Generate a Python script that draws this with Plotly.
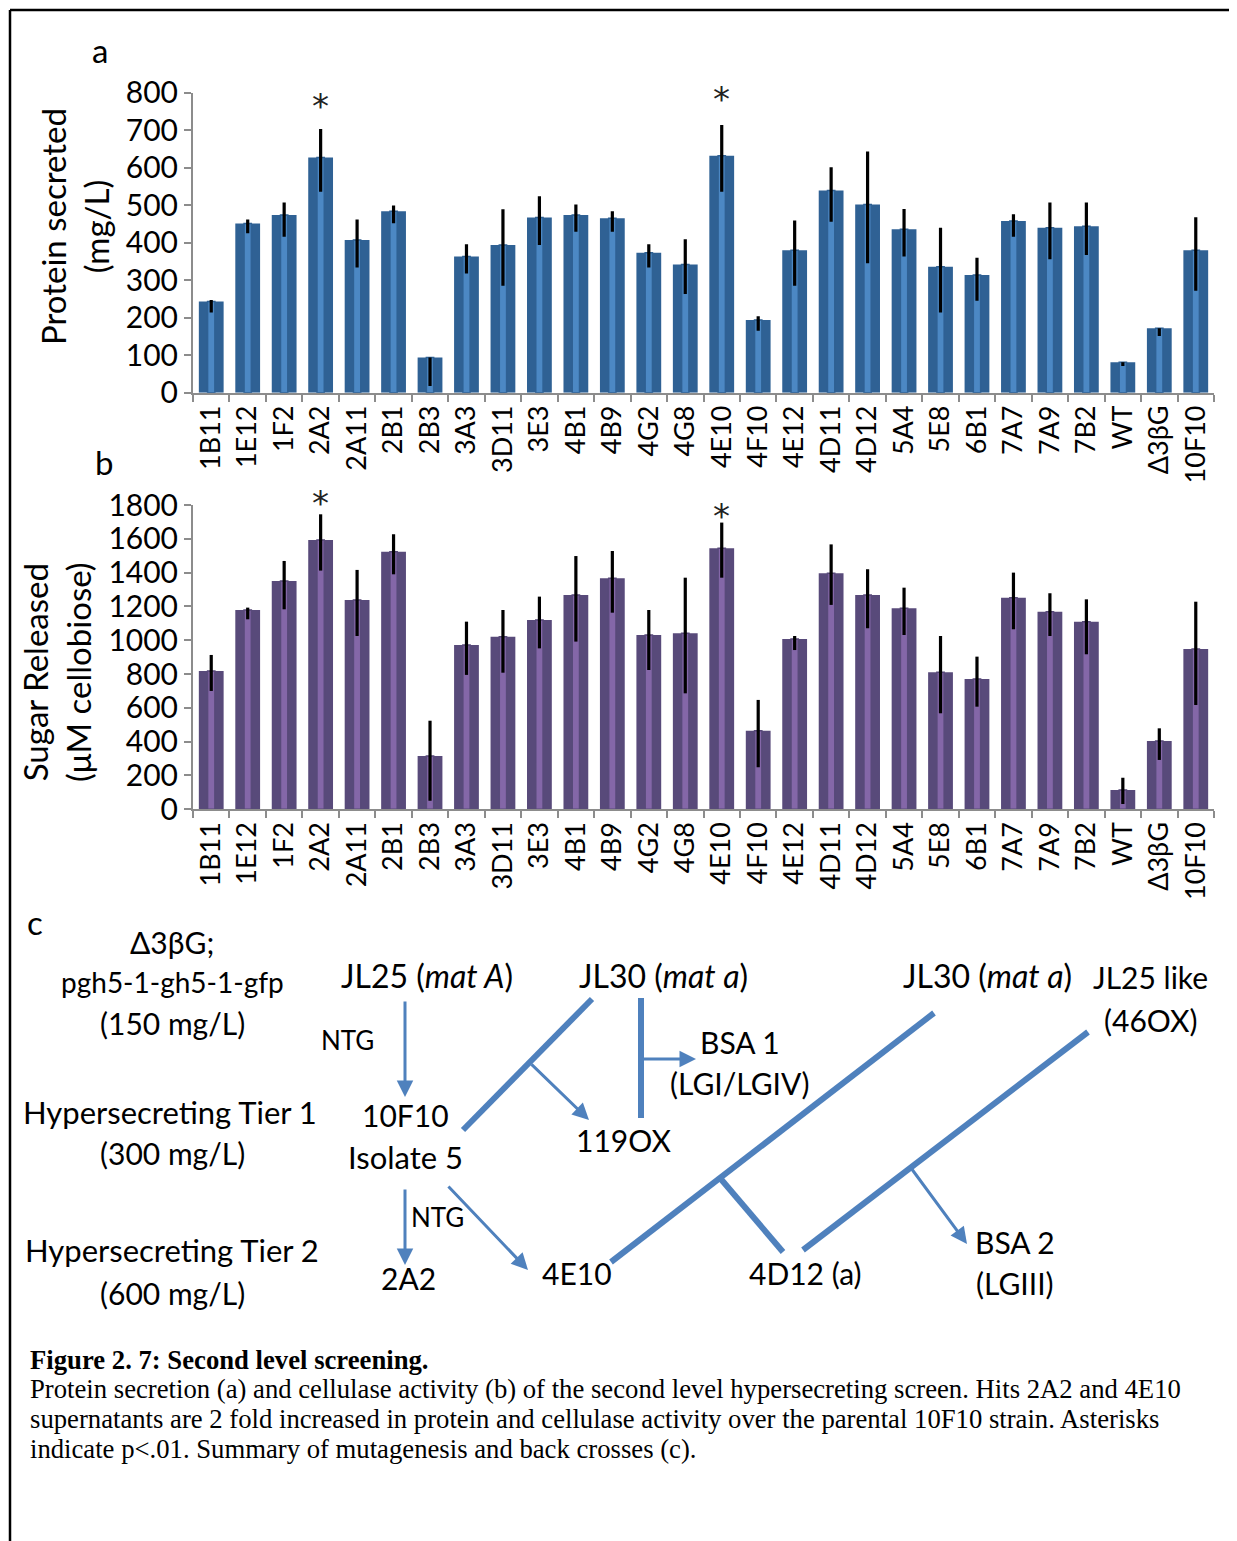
import plotly.graph_objects as go

W, H = 1237, 1541
OFF = 8  # page body margin added by the browser

def px(x):
    return (x - OFF) / W

def py(y):
    return 1 - (y - OFF) / H

# ---------------- data ----------------
categories = ["1B11", "1E12", "1F2", "2A2", "2A11", "2B1", "2B3", "3A3", "3D11", "3E3",
              "4B1", "4B9", "4G2", "4G8", "4E10", "4F10", "4E12", "4D11", "4D12", "5A4",
              "5E8", "6B1", "7A7", "7A9", "7B2", "WT", "Δ3βG", "10F10"]

protein = [243, 451, 474, 627, 407, 484, 94, 363, 394, 467,
           474, 465, 373, 342, 632, 194, 380, 539, 502, 436,
           336, 314, 458, 440, 444, 81, 172, 380]
protein_err_plus = [4, 11, 33, 76, 55, 15, 0, 33, 95, 57,
                    28, 19, 23, 67, 82, 10, 79, 62, 141, 54,
                    104, 46, 18, 67, 63, 0, 0, 88]
protein_err_minus = [29, 26, 58, 91, 73, 32, 76, 45, 109, 73,
                     45, 36, 39, 79, 96, 29, 95, 83, 157, 73,
                     122, 69, 42, 84, 77, 10, 21, 108]

sugar = [818, 1179, 1350, 1593, 1238, 1524, 315, 972, 1021, 1120,
         1268, 1366, 1031, 1041, 1544, 465, 1007, 1396, 1268, 1189,
         810, 771, 1252, 1169, 1110, 114, 404, 948]
sugar_err_plus = [95, 14, 119, 152, 178, 103, 209, 138, 158, 138,
                  230, 162, 148, 329, 152, 182, 18, 171, 152, 122,
                  215, 132, 148, 109, 132, 73, 75, 280]
sugar_err_minus = [118, 55, 167, 181, 213, 134, 264, 177, 213, 168,
                   276, 203, 207, 355, 174, 217, 65, 187, 197, 158,
                   242, 164, 187, 144, 193, 82, 112, 331]

significant = ["2A2", "4E10"]

protein_ticks = list(range(0, 801, 100))
sugar_ticks = list(range(0, 1801, 200))

FONT = "Lato"
BLUE_DARK, BLUE_LIGHT = "#2F6194", "#4C88C4"
PURP_DARK, PURP_LIGHT = "#584A7A", "#8467A8"
AXIS_GREY = "#8C8C8C"

fig = go.Figure()

def add_panel(vals, ep, em, dark, light, xa, ya):
    fig.add_trace(go.Bar(x=categories, y=vals, width=0.68,
                         marker=dict(color=dark, line=dict(width=0)),
                         xaxis=xa, yaxis=ya, showlegend=False, hoverinfo="skip"))
    fig.add_trace(go.Bar(x=categories, y=vals, width=0.2,
                         marker=dict(color=light, line=dict(color=dark, width=1.5)),
                         error_y=dict(type="data", symmetric=False, array=ep, arrayminus=em,
                                      color="black", thickness=3.2, width=0),
                         xaxis=xa, yaxis=ya, showlegend=False))

add_panel(protein, protein_err_plus, protein_err_minus, BLUE_DARK, BLUE_LIGHT, "x", "y")
add_panel(sugar, sugar_err_plus, sugar_err_minus, PURP_DARK, PURP_LIGHT, "x2", "y2")

xcommon = dict(type="category", categoryorder="array", categoryarray=categories,
               tickangle=-90, tickson="boundaries", ticks="outside", ticklen=7,
               tickwidth=2, tickcolor=AXIS_GREY, showline=True, linecolor=AXIS_GREY,
               linewidth=2, showgrid=False, zeroline=False, automargin=False,
               tickfont=dict(family=FONT, size=27, color="black"),
               range=[-0.5, len(categories) - 0.5])
ycommon = dict(ticks="outside", ticklen=7, tickwidth=2, tickcolor=AXIS_GREY,
               showline=True, linecolor=AXIS_GREY, linewidth=2, showgrid=False,
               zeroline=False, automargin=False,
               tickfont=dict(family=FONT, size=30, color="black"))

layout = dict(
    width=W, height=H, margin=dict(l=0, r=0, t=0, b=0, autoexpand=False),
    paper_bgcolor="white", plot_bgcolor="white", barmode="overlay",
    xaxis=dict(domain=[px(193), px(1214)], anchor="y", **xcommon),
    yaxis=dict(domain=[py(392.7), py(92.7)], anchor="x", range=[0, 800],
               tickvals=protein_ticks, **ycommon),
    xaxis2=dict(domain=[px(193), px(1214)], anchor="y2", **xcommon),
    yaxis2=dict(domain=[py(809.3), py(505)], anchor="x2", range=[0, 1800],
                tickvals=sugar_ticks, **ycommon),
)
fig.update_layout(**layout)

ann = []

def txt(x, y, s, size=28, family=FONT, xanchor="center", angle=0, bold=False):
    if bold:
        s = "<b>" + s + "</b>"
    ann.append(dict(x=px(x), y=py(y), xref="paper", yref="paper", text=s,
                    showarrow=False, xanchor=xanchor, yanchor="middle", textangle=angle,
                    font=dict(family=family, size=size, color="black")))

# panel letters
txt(100, 50, "a", size=33)
txt(104, 462, "b", size=33)
txt(35, 922, "c", size=33)

# axis titles
txt(74, 227, "Protein secreted<br>(mg/L)", size=33, angle=-90)
txt(56, 672, "Sugar Released<br>(μM cellobiose)", size=33, angle=-90)

# asterisks (category index used so "4E10" is not parsed as a number)
for cat, ypix in zip(significant, [106, 99]):
    ann.append(dict(x=categories.index(cat), xref="x", y=py(ypix), yref="paper", text="*",
                    showarrow=False, yanchor="middle",
                    font=dict(family="DejaVu Sans", size=34, color="#222222")))
for cat, ypix in zip(significant, [503, 516]):
    ann.append(dict(x=categories.index(cat), xref="x2", y=py(ypix), yref="paper", text="*",
                    showarrow=False, yanchor="middle",
                    font=dict(family="DejaVu Sans", size=34, color="#222222")))

# ---------------- panel c diagram ----------------
DF = 30
txt(172, 942, "Δ3βG;", DF)
txt(172, 982, "pgh5-1-gh5-1-gfp", 28)
txt(172, 1023, "(150 mg/L)", DF)
txt(170, 1112, "Hypersecreting Tier 1", 31)
txt(172, 1153, "(300 mg/L)", DF)
txt(172, 1250, "Hypersecreting Tier 2", 31)
txt(172, 1293, "(600 mg/L)", DF)
txt(427, 975, "JL25 (<i>mat A</i>)", 32)
txt(663, 975, "JL30 (<i>mat a</i>)", 32)
txt(987, 975, "JL30 (<i>mat a</i>)", 32)
txt(1150, 977, "JL25 like", DF)
txt(1150, 1020, "(46OX)", DF)
txt(348, 1040, "NTG", 26)
txt(740, 1042, "BSA 1", DF)
txt(740, 1083, "(LGI/LGIV)", DF)
txt(405, 1115, "10F10", DF)
txt(405, 1157, "Isolate 5", 31)
txt(623, 1140, "119OX", DF)
txt(437, 1217, "NTG", 26)
txt(408, 1278, "2A2", DF)
txt(577, 1273, "4E10", DF)
txt(806, 1273, "4D12 (a)", DF)
txt(1015, 1242, "BSA 2", DF)
txt(1015, 1283, "(LGIII)", DF)

LINE_BLUE = "#4F81BD"

def arrow(x0, y0, x1, y1):
    ann.append(dict(x=px(x1), y=py(y1), xref="paper", yref="paper", ax=x0 - x1, ay=y0 - y1,
                    axref="pixel", ayref="pixel", text="", showarrow=True,
                    arrowhead=2, arrowsize=1.1, arrowwidth=3, arrowcolor=LINE_BLUE))

arrow(405, 1000, 405, 1097)
arrow(530, 1063, 589, 1120)
arrow(641, 1059, 696, 1059)
arrow(405, 1188, 405, 1265)
arrow(447, 1185, 528, 1270)
arrow(911, 1168, 967, 1244)

shapes = []

def seg(x0, y0, x1, y1, w=6, c=LINE_BLUE):
    shapes.append(dict(type="line", xref="paper", yref="paper", x0=px(x0), y0=py(y0),
                       x1=px(x1), y1=py(y1), line=dict(color=c, width=w)))

seg(463, 1130, 592, 999)
seg(641, 998, 641, 1118)
seg(611, 1262, 934, 1013)
seg(720, 1178, 783, 1252)
seg(803, 1250, 1088, 1032)

# frame
seg(10, 10, 1245, 10, w=2.5, c="black")
seg(10, 10, 10, 1549, w=2.5, c="black")

# caption
SER = "Liberation Serif"
ann.append(dict(x=px(28), y=py(1360), xref="paper", yref="paper", xanchor="left",
                yanchor="middle", showarrow=False,
                text="<b>Figure 2. 7: Second level screening.</b>",
                font=dict(family=SER, size=26.7, color="black")))
cap_lines = [
    "Protein secretion (a) and cellulase activity (b) of the second level hypersecreting screen. Hits 2A2 and 4E10",
    "supernatants are 2 fold increased in protein and cellulase activity over the parental 10F10 strain. Asterisks",
    "indicate p&lt;.01. Summary of mutagenesis and back crosses (c).",
]
for i, line in enumerate(cap_lines):
    ann.append(dict(x=px(28), y=py(1389 + 30 * i), xref="paper", yref="paper", xanchor="left",
                    yanchor="middle", showarrow=False, text=line,
                    font=dict(family=SER, size=26.7, color="black")))

fig.update_layout(annotations=ann, shapes=shapes)
fig.write_html("out.html", config={"displayModeBar": False})
